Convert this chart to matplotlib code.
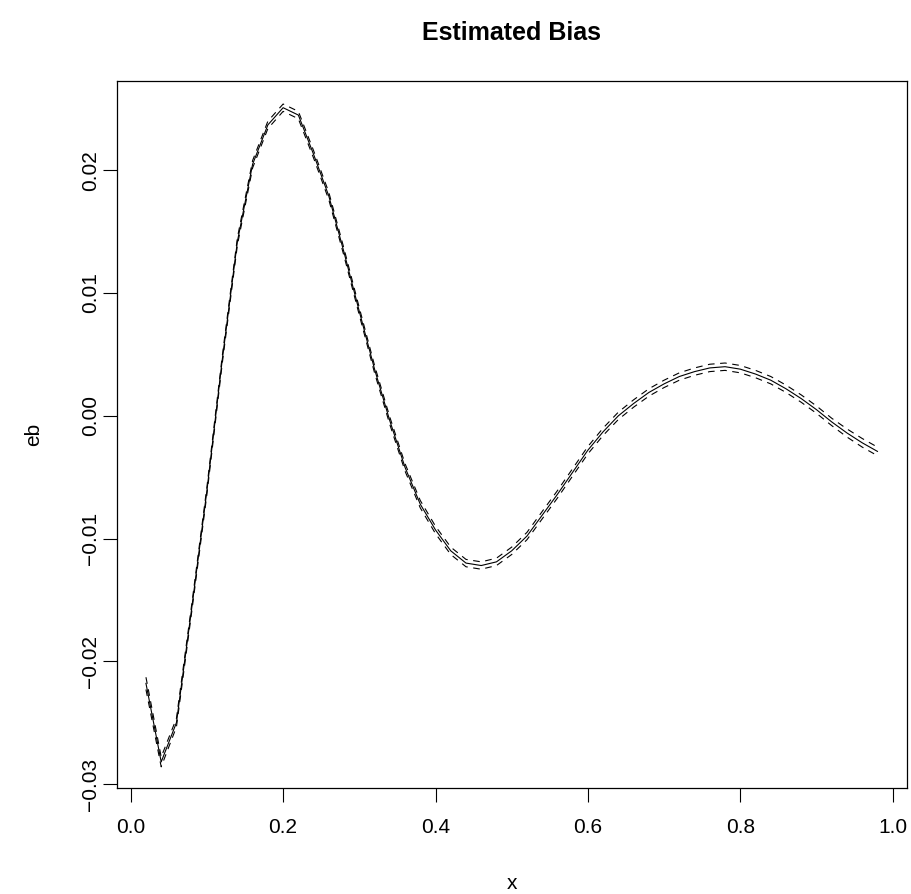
import numpy as np
import matplotlib
matplotlib.use("Agg")
import matplotlib.pyplot as plt

plt.rcParams["font.family"] = ["Liberation Sans", "DejaVu Sans"]

# grid of x values and estimated bias
x = np.round(np.arange(0.02, 0.981, 0.02), 2)
eb = [-0.0218, -0.0282, -0.0250, -0.0157, -0.0061, 0.0045, 0.0142, 0.0205,
      0.0237, 0.0251, 0.0245, 0.0213, 0.0179, 0.0133, 0.0085, 0.0038,
      -0.0004, -0.0042, -0.0072, -0.0093, -0.0110, -0.0120, -0.0122, -0.0119,
      -0.0110, -0.0098, -0.0081, -0.0064, -0.0046, -0.0028, -0.0013, 0.0000,
      0.0010, 0.0019, 0.0026, 0.0032, 0.0036, 0.0039, 0.0040, 0.0038,
      0.0034, 0.0029, 0.0022, 0.0014, 0.0005, -0.0005, -0.0014, -0.0022,
      -0.0029]
# half width of the dashed band
se = [0.0005, 0.0004, 0.00035] + [0.0003] * 43 + [0.00033, 0.00035, 0.00035]

eb = np.array(eb)
se = np.array(se)

fig = plt.figure(figsize=(9.12, 8.94), dpi=100)
l, r, b, t = 116.7 / 912, 906.7 / 912, 1 - 787.7 / 894, 1 - 80.7 / 894
ax = fig.add_axes([l, b, r - l, t - b])

ax.plot(x, eb, color="black", lw=0.8)
ax.plot(x, eb + se, color="black", lw=0.8, linestyle=(0, (6, 5)))
ax.plot(x, eb - se, color="black", lw=0.8, linestyle=(0, (6, 5)))

ax.set_xlim(-0.0184, 1.0184)
ax.set_ylim(-0.0303, 0.0273)
ax.set_xticks([0.0, 0.2, 0.4, 0.6, 0.8, 1.0])
ax.set_xticklabels(["0.0", "0.2", "0.4", "0.6", "0.8", "1.0"])
ax.set_yticks([-0.03, -0.02, -0.01, 0.0, 0.01, 0.02])
ax.set_yticklabels(["\u22120.03", "\u22120.02", "\u22120.01", "0.00", "0.01", "0.02"],
                   rotation=90, va="center")
ax.tick_params(direction="out", length=10, width=0.8, labelsize=15)
ax.tick_params(axis="x", pad=12)
ax.tick_params(axis="y", pad=2)
for s in ax.spines.values():
    s.set_linewidth(0.9)

cx = (l + r) / 2
fig.text(cx, 1 - 33 / 894, "Estimated Bias", ha="center", va="center",
         fontsize=18, fontweight="bold")
fig.text(cx, 1 - 889 / 894, "x", ha="center", va="baseline", fontsize=15)
fig.text(34 / 912, (b + t) / 2, "eb", ha="center", va="center",
         fontsize=15, rotation=90)

fig.savefig("out.png", dpi=100)
